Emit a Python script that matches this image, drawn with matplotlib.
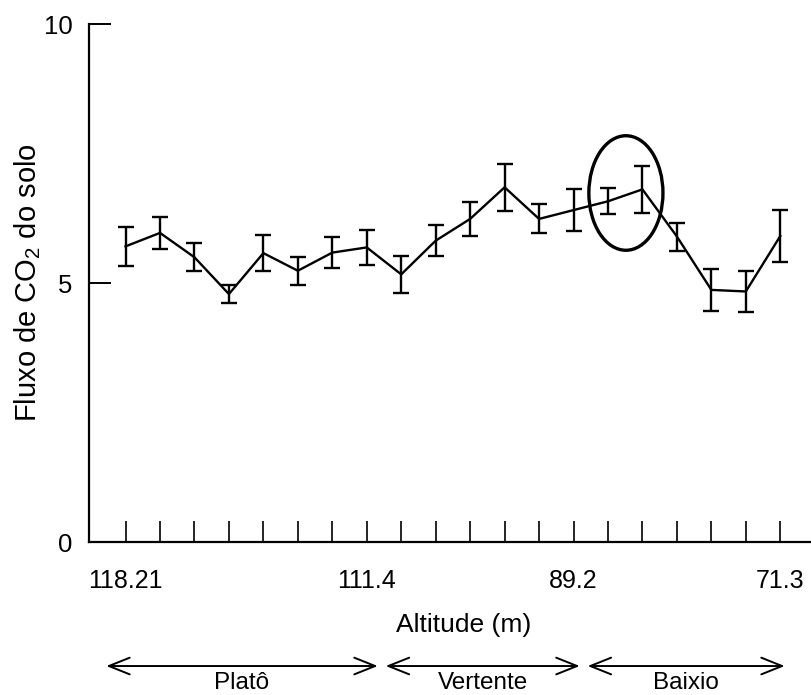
import numpy as np
import matplotlib
matplotlib.use('Agg')
import matplotlib.pyplot as plt
from matplotlib.patches import Ellipse, FancyArrowPatch

plt.rcParams['font.family'] = ['Liberation Sans', 'DejaVu Sans']
plt.rcParams['mathtext.fontset'] = 'custom'
plt.rcParams['mathtext.rm'] = 'Liberation Sans'

# soil CO2 flux along the transect (20 sampling points), mean and error bar
flux = [5.71, 5.97, 5.50, 4.79, 5.58, 5.24, 5.59, 5.69, 5.17, 5.82,
        6.24, 6.85, 6.24, 6.41, 6.58, 6.81, 5.90, 4.87, 4.84, 5.91]
err = [0.38, 0.31, 0.27, 0.18, 0.34, 0.27, 0.30, 0.34, 0.35, 0.30,
       0.33, 0.45, 0.28, 0.40, 0.25, 0.45, 0.27, 0.41, 0.40, 0.50]
points = np.arange(1, len(flux) + 1)

# altitude labels shown under some of the points
alt_pos = [1, 8, 14, 20]
alt_labels = ['118.21', '111.4', '89.2', '71.3']

# landscape zones (start / end along the transect)
zones = ['Platô', 'Vertente', 'Baixio']
zone_start = [0.36, 8.47, 14.33]
zone_end = [8.40, 14.26, 20.21]

fig = plt.figure(figsize=(8.12, 6.95), dpi=100)
ax = fig.add_axes([89/812, 0.2197, 1 - 89/812, 0.7457])

ax.errorbar(points, flux, yerr=err, color='black', lw=1.7,
            elinewidth=1.7, capsize=6, capthick=1.7)

# highlight ellipse around points 15-16
ax.add_patch(Ellipse((15.52, 6.74), 2.15, 2.21, fill=False,
                     edgecolor='black', lw=2.4))

ax.set_xlim(-0.06, 20.92)
ax.set_ylim(0, 10)
ax.set_yticks([0, 5, 10])
ax.set_yticklabels(['0', '5', '10'])
ax.set_xticks(points)
xlabels = ['' for p in points]
for p, l in zip(alt_pos, alt_labels):
    xlabels[p - 1] = l
ax.set_xticklabels(xlabels)

for s in ['top', 'right']:
    ax.spines[s].set_visible(False)
for s in ['left', 'bottom']:
    ax.spines[s].set_linewidth(1.6)

ax.tick_params(axis='x', direction='in', length=15, width=1.2,
               pad=19, labelsize=18)
ax.tick_params(axis='y', direction='in', length=16, width=1.4,
               pad=12, labelsize=18.5)

fig.text(27.5/812, 1 - 283/695, r'Fluxo de CO$_\mathrm{2}$ do solo',
         rotation=90, ha='center', va='center', fontsize=21)
fig.text(463.5/812, 1 - 625/695, 'Altitude (m)', ha='center',
         va='center', fontsize=19)

# zone arrows under the axis
trans = ax.get_xaxis_transform()
arrow_y = -0.2387
for name, x0, x1 in zip(zones, zone_start, zone_end):
    arr = FancyArrowPatch((x0, arrow_y), (x1, arrow_y), transform=trans,
                          arrowstyle='<->,head_length=0.75,head_width=0.3',
                          mutation_scale=20, color='black', lw=1.4,
                          clip_on=False)
    ax.add_artist(arr)
    ax.annotate(name, xy=((x0 + x1) / 2, 0), xycoords=trans,
                xytext=((x0 + x1) / 2, 1 / 695),
                textcoords=('data', 'figure fraction'),
                ha='center', va='bottom', fontsize=17.5,
                annotation_clip=False)

fig.savefig('out.png', dpi=100)
